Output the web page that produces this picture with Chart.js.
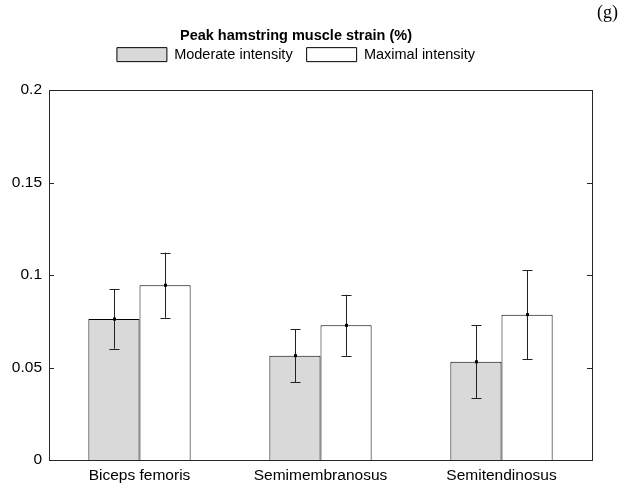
<!DOCTYPE html>
<html>
<head>
<meta charset="utf-8">
<script src="https://cdn.jsdelivr.net/npm/chart.js@4/dist/chart.umd.min.js"></script>
<style>
  html, body { margin: 0; padding: 0; background: #fff; }
  #wrap { position: relative; width: 624px; height: 486px; }
  #panel { position: absolute; right: 6px; top: 2px; font: 18px "Liberation Serif", serif; color: #000; }
</style>
</head>
<body>
<div id="wrap">
  <canvas id="chart" width="624" height="486"></canvas>
  <div id="panel">(g)</div>
</div>
<script>
// data
const categories = ["Biceps femoris", "Semimembranosus", "Semitendinosus"];
const moderate = [0.0762, 0.0564, 0.0531];
const maximal = [0.0945, 0.0728, 0.0786];
const moderateSD = [0.016, 0.0144, 0.0198];
const maximalSD = [0.0176, 0.0165, 0.024];
const yTicks = [0, 0.05, 0.1, 0.15, 0.2];

const FONT = "'Liberation Sans', Arial, Helvetica, sans-serif";

// error bars + box + inward ticks (matlab look)
const matlabStyle = {
    id: "matlabStyle",
    afterDatasetsDraw(chart) {
        const ctx = chart.ctx;
        const y = chart.scales.y;
        const sds = [moderateSD, maximalSD];
        ctx.save();
        chart.data.datasets.forEach((ds, i) => {
            const meta = chart.getDatasetMeta(i);
            meta.data.forEach((bar, j) => {
                const v = ds.data[j];
                const top = y.getPixelForValue(v + sds[i][j]);
                const bot = y.getPixelForValue(v - sds[i][j]);
                const x = Math.round(bar.x) + 0.5;
                ctx.strokeStyle = "#222";
                ctx.lineWidth = 1;
                ctx.beginPath();
                ctx.moveTo(x, top);
                ctx.lineTo(x, bot);
                ctx.moveTo(x - 5, Math.round(top) + 0.5);
                ctx.lineTo(x + 5, Math.round(top) + 0.5);
                ctx.moveTo(x - 5, Math.round(bot) + 0.5);
                ctx.lineTo(x + 5, Math.round(bot) + 0.5);
                ctx.stroke();
                ctx.fillStyle = "#000";
                ctx.fillRect(x - 1.5, y.getPixelForValue(v) - 1.5, 3, 3);
            });
        });
        const a = chart.chartArea;
        ctx.strokeStyle = "#262626";
        ctx.lineWidth = 1;
        ctx.strokeRect(Math.round(a.left) + 0.5, Math.round(a.top) + 0.5,
            Math.round(a.right - a.left), Math.round(a.bottom - a.top));
        ctx.beginPath();
        yTicks.forEach((t) => {
            const py = Math.round(y.getPixelForValue(t)) + 0.5;
            ctx.moveTo(a.left, py);
            ctx.lineTo(a.left + 5, py);
            ctx.moveTo(a.right, py);
            ctx.lineTo(a.right - 5, py);
        });
        ctx.stroke();
        ctx.restore();
    },
};

new Chart(document.getElementById("chart"), {
    type: "bar",
    data: {
        labels: categories,
        datasets: [
            {
                label: "Moderate intensity",
                data: moderate,
                backgroundColor: "#d9d9d9",
                borderColor: "#000",
                borderWidth: 1,
            },
            {
                label: "Maximal intensity",
                data: maximal,
                backgroundColor: "#ffffff",
                borderColor: "#000",
                borderWidth: 1,
            },
        ],
    },
    options: {
        responsive: false,
        animation: false,
        categoryPercentage: 0.565,
        barPercentage: 1,
        layout: { padding: { left: 0, right: 32, top: 0, bottom: 0 } },
        plugins: {
            title: {
                display: true,
                text: "Peak hamstring muscle strain (%)",
                color: "#000",
                font: { family: FONT, size: 14.5, weight: "bold" },
                padding: { top: 27, bottom: -11 },
            },
            legend: {
                display: true,
                labels: {
                    color: "#000",
                    font: { family: FONT, size: 14.5 },
                    boxWidth: 50,
                    boxHeight: 14,
                    padding: 14,
                },
            },
            tooltip: { enabled: false },
        },
        scales: {
            x: {
                grid: { display: false, drawTicks: false },
                border: { display: false },
                afterFit: (scale) => {
                    scale.height = 26;
                },
                ticks: { color: "#000", font: { family: FONT, size: 15.5 }, padding: 6 },
            },
            // empty spacer between legend and axes box
            xTop: {
                position: "top",
                grid: { display: false, drawTicks: false },
                border: { display: false },
                ticks: { display: false },
                afterFit: (scale) => {
                    scale.height = 18.2;
                },
            },
            y: {
                min: 0,
                max: 0.2,
                grid: { display: false, drawTicks: false },
                border: { display: false },
                afterBuildTicks: (scale) => {
                    scale.ticks = yTicks.map((v) => ({ value: v }));
                },
                afterFit: (scale) => {
                    scale.width = 49;
                },
                ticks: {
                    color: "#000",
                    font: { family: FONT, size: 15.5 },
                    padding: 7,
                    callback: (v) => String(v),
                },
            },
        },
    },
    plugins: [matlabStyle],
});
</script>
</body>
</html>
